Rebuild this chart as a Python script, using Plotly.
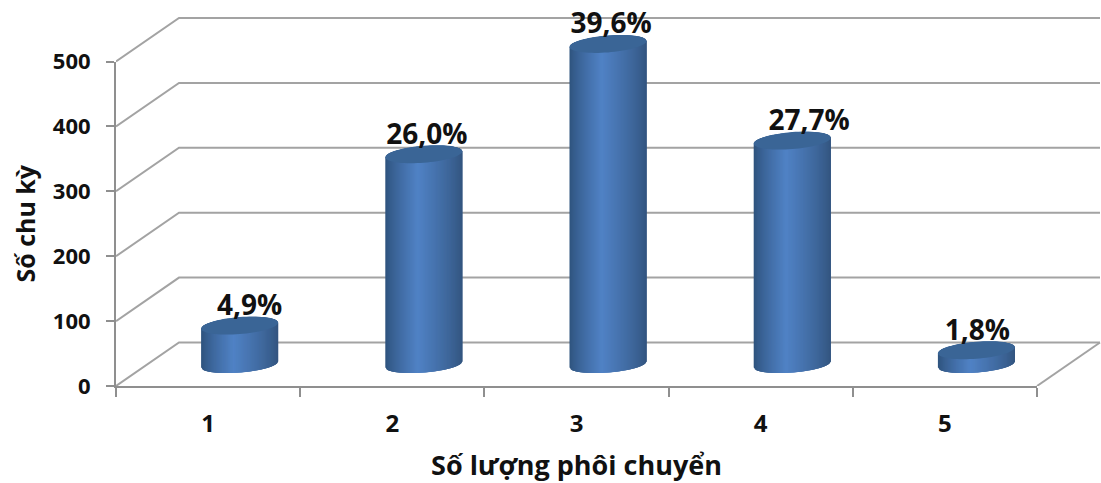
import math
import plotly.graph_objects as go

categories = [1, 2, 3, 4, 5]
values = [60, 324, 494, 345, 22]
labels = ["4,9%", "26,0%", "39,6%", "27,7%", "1,8%"]
label_dx_px = [10, 3, 3, 17, 1]
y_ticks = [0, 100, 200, 300, 400, 500]

FONT = "Open Sans"
GRID = "#a3a3a3"
AXIS = "#8f8f8f"
W, H = 1101, 483
L, T, B = 116, 10, 97
AX_W, AX_H = 921.0, 324.5
PW, PH = W - L, H - T - B
ux = 5.0 / AX_W
uy = 500.0 / AX_H
X2_RANGE = [0.5, 0.5 + PW * ux]
Y2_RANGE = [0, PH * uy]

fig = go.Figure()

# dummy trace so that the visible axes exist
fig.add_trace(go.Scatter(x=[1], y=[0], mode="none", xaxis="x", yaxis="y", hoverinfo="skip"))

# back walls
DX, DY = 63 * ux, 43.5 * uy
xs, ys = [], []
for v in y_ticks:
    xs += [0.5, 0.5 + DX, 5.5 + DX, None]
    ys += [v, v + DY, v + DY, None]
xs += [5.5, 5.5 + DX, None]
ys += [0, DY, None]
fig.add_trace(go.Scatter(x=xs, y=ys, mode="lines", xaxis="x2", yaxis="y2", hoverinfo="skip",
                         line=dict(color=GRID, width=2)))

# cylinders, drawn as thin vertical strips
A = 38.5
Bp = 8.0
TILT = 3.0
OFFX = 31.5 * ux
BASE = 21.5 * uy
N = 77


def mix(c1, c2, f):
    return "rgb(%d,%d,%d)" % tuple(round(a + (b - a) * f) for a, b in zip(c1, c2))


DARK_L = (46, 82, 124)
DARK_R = (50, 84, 126)
LIGHT = (80, 130, 197)
PEAK = -0.16


def low(t, yc):
    return yc + (TILT * t - Bp * math.sqrt(max(0, 1 - t * t))) * uy


def up(t, yc):
    return yc + (TILT * t + Bp * math.sqrt(max(0, 1 - t * t))) * uy


for i in range(N):
    t0 = -1 + 2 * i / N
    t1 = min(-1 + 2 * (i + 3) / N, 1)
    tm = -1 + 2 * (i + 0.5) / N
    if tm < PEAK:
        f = ((tm + 1) / (PEAK + 1)) ** 0.8
        col = mix(DARK_L, LIGHT, f)
    else:
        f = ((1 - tm) / (1 - PEAK)) ** 0.8
        col = mix(DARK_R, LIGHT, f)
    sx, sy = [], []
    for c, v in zip(categories, values):
        cx = c + OFFX
        x0 = cx + A * ux * t0
        x1 = cx + A * ux * t1
        top = BASE + v
        sx += [x0, x1, x1, x0, x0, None]
        sy += [low(t0, BASE), low(t1, BASE), up(t1, top), up(t0, top), low(t0, BASE), None]
    fig.add_trace(go.Scatter(x=sx, y=sy, mode="none", fill="toself", fillcolor=col, xaxis="x2", yaxis="y2",
                             hoverinfo="skip"))

# top caps
cx_all, cy_all = [], []
for c, v in zip(categories, values):
    for k in range(73):
        th = 2 * math.pi * k / 72
        t = math.cos(th)
        cx_all.append(c + OFFX + A * ux * t)
        cy_all.append(BASE + v + (TILT * t + 8.5 * math.sin(th)) * uy)
    cx_all.append(None)
    cy_all.append(None)
fig.add_trace(go.Scatter(x=cx_all, y=cy_all, mode="none", fill="toself", fillcolor="#3a6596", xaxis="x2", yaxis="y2",
                         hoverinfo="skip"))

# data labels
fig.add_trace(go.Scatter(
    x=[c + OFFX + d * ux for c, d in zip(categories, label_dx_px)],
    y=[BASE + v + 17.5 * uy for v in values],
    text=labels, mode="text", textposition="middle center", xaxis="x2", yaxis="y2", hoverinfo="skip",
    textfont=dict(family=FONT, size=28, color="#111111", weight="bold")))

fig.update_layout(
    width=W, height=H, autosize=False, showlegend=False,
    paper_bgcolor="white", plot_bgcolor="rgba(0,0,0,0)",
    margin=dict(l=L, r=0, t=T, b=B, pad=0),
    font=dict(family=FONT, color="#111111"),
    xaxis=dict(
        domain=[0, AX_W / PW], anchor="y", automargin=False,
        range=[0.5, 5.5], tickvals=categories, ticktext=[str(c) for c in categories],
        showgrid=False, zeroline=False, showline=True, linecolor=AXIS, linewidth=2,
        ticks="", ticklabelstandoff=15,
        tickfont=dict(family=FONT, size=24, color="#111111", weight="bold"),
        minor=dict(tickvals=[0.5, 1.5, 2.5, 3.5, 4.5, 5.5], ticks="outside", ticklen=9, tickwidth=2,
                   tickcolor=AXIS, showgrid=False),
        title=dict(text="Số lượng phôi chuyển", standoff=21,
                   font=dict(family=FONT, size=27, color="#111111", weight="bold")),
    ),
    yaxis=dict(
        domain=[0, AX_H / PH], anchor="x", automargin=False,
        range=[0, 500], tickvals=y_ticks, showgrid=False, zeroline=False,
        showline=True, linecolor=AXIS, linewidth=2, ticks="outside", ticklen=8, tickwidth=2, tickcolor=AXIS,
        ticklabelstandoff=11,
        tickfont=dict(family=FONT, size=22, color="#111111", weight="bold"),
        title=dict(text="Số chu kỳ", standoff=10,
                   font=dict(family=FONT, size=25, color="#111111", weight="bold")),
    ),
    xaxis2=dict(domain=[0, 1], range=X2_RANGE, visible=False, anchor="y2"),
    yaxis2=dict(domain=[0, 1], range=Y2_RANGE, visible=False, anchor="x2"),
)
fig.write_html("out.html", post_script="document.body.style.margin='0';", config={"displayModeBar": False})
